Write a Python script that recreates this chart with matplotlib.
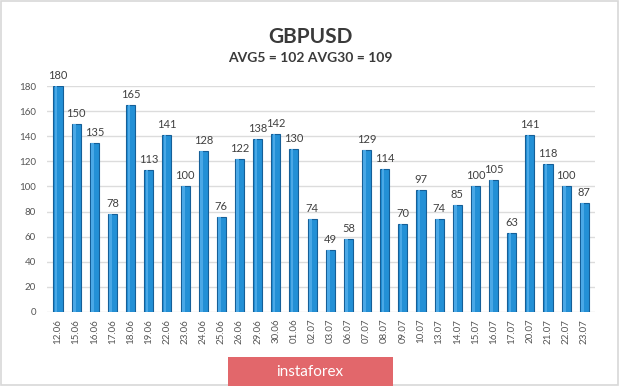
import matplotlib
matplotlib.use('Agg')
import matplotlib.pyplot as plt
from matplotlib.patches import Rectangle

# dates and daily volatility values
dates = ['12.06', '15.06', '16.06', '17.06', '18.06', '19.06', '22.06', '23.06',
         '24.06', '25.06', '26.06', '29.06', '30.06', '01.06', '02.07', '03.07',
         '06.07', '07.07', '08.07', '09.07', '10.07', '13.07', '14.07', '15.07',
         '16.07', '17.07', '20.07', '21.07', '22.07', '23.07']
values = [180, 150, 135, 78, 165, 113, 141, 100, 128, 76, 122, 138, 142, 130,
          74, 49, 58, 129, 114, 70, 97, 74, 85, 100, 105, 63, 141, 118, 100, 87]
yticks = [0, 20, 40, 60, 80, 100, 120, 140, 160, 180]

fig = plt.figure(figsize=(6.2, 3.86), dpi=100)
fig.patch.set_facecolor('white')

# light frame round the whole picture
fig.patches.append(Rectangle((0.002, 0.003), 0.995, 0.994, transform=fig.transFigure,
                             fill=False, edgecolor='#d8d8d8', linewidth=1.2))

ax = fig.add_axes([0.076, 0.192, 0.884, 0.585])
x = list(range(len(values)))

# bars with darker side, a bit like the 3D look of the original
ax.bar(x, values, width=0.5, color='#2390d6', edgecolor='#155f98', linewidth=0.8, zorder=3)
ax.bar([i - 0.1 for i in x], values, width=0.14, color='#4aa8e6', linewidth=0, zorder=4)

for i, v in zip(x, values):
    ax.text(i, v + 4, str(v), ha='center', va='bottom', fontsize=8,
            color='#404040', family='Lato')

ax.set_xlim(-0.6, 29.6)
ax.set_ylim(0, 180)
ax.set_yticks(yticks)
ax.set_yticklabels([str(t) for t in yticks], fontsize=7, color='#555555', family='Lato')
ax.set_xticks(x)
ax.set_xticklabels(dates, rotation=90, fontsize=7, color='#555555', family='Lato')
ax.tick_params(length=0, pad=8)
ax.tick_params(axis='x', pad=5)
ax.grid(axis='y', color='#dcdcdc', linewidth=1, zorder=0)
for s in ax.spines.values():
    s.set_visible(False)

fig.text(0.5, 0.905, 'GBPUSD', ha='center', va='center', fontsize=15,
         fontweight='bold', color='#3a3a3a', family='Lato')
fig.text(0.5, 0.85, 'AVG5 = 102 AVG30 = 109', ha='center', va='center', fontsize=10,
         fontweight='bold', color='#3a3a3a', family='Lato')

# instaforex badge at the bottom
fig.patches.append(Rectangle((228 / 620, 0.0), 165 / 620, 29 / 386, transform=fig.transFigure,
                             facecolor='#e2676b', edgecolor='none'))
fig.text(310 / 620, 14 / 386, 'instaforex', ha='center', va='center', fontsize=11,
         color='white', family='Lato')

plt.savefig('out.png', dpi=100)
